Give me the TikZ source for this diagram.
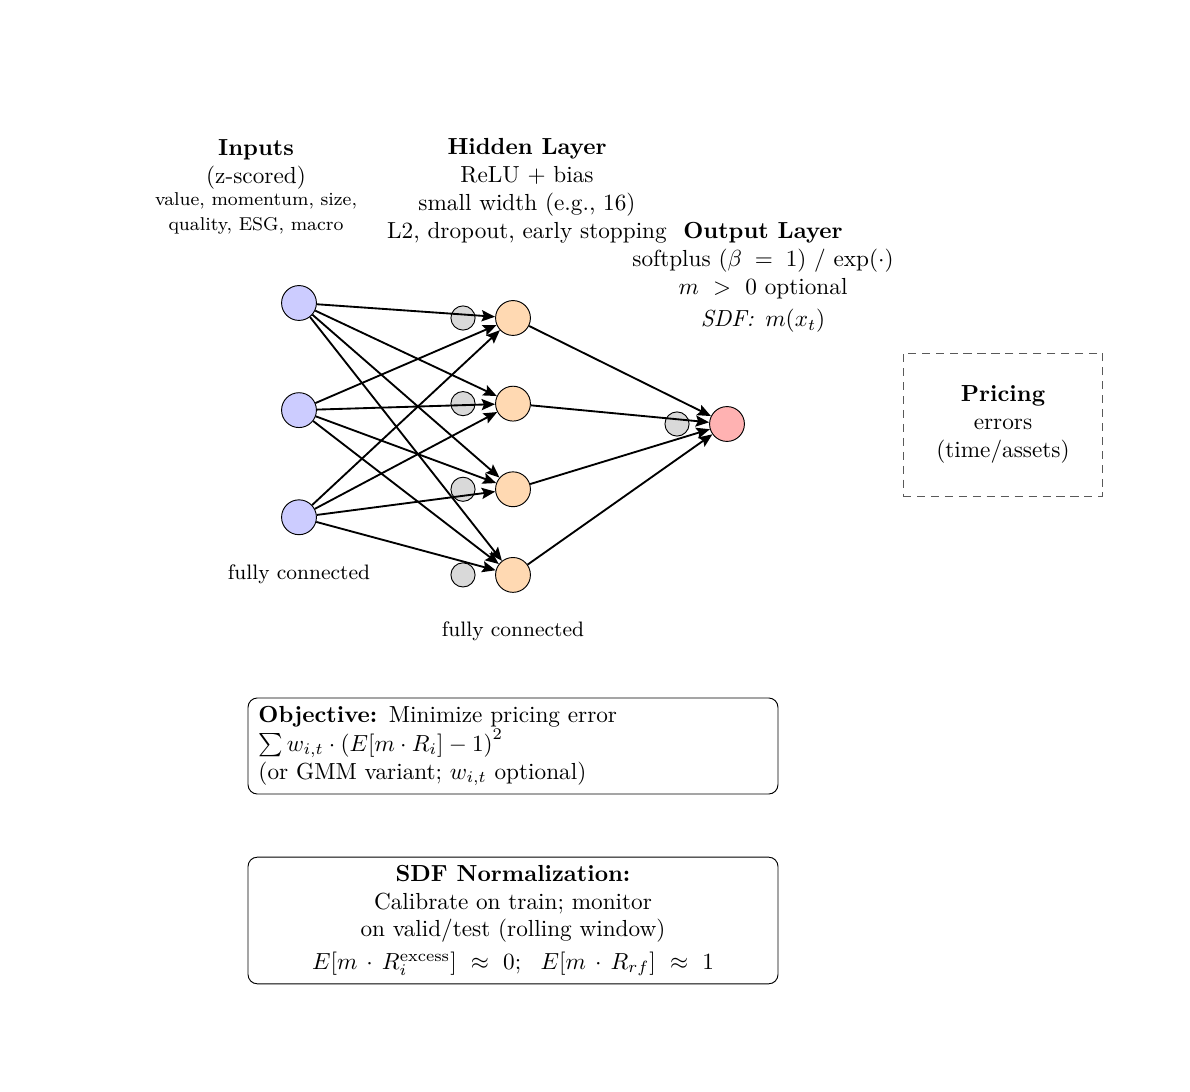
\documentclass[tikz,border=0pt]{standalone}
\usepackage{amsmath}
\usetikzlibrary{arrows.meta}
\tikzstyle{inunit} = [draw, fill=blue!20, circle, minimum size=15pt, inner sep=0pt]
\tikzstyle{hidunit} = [draw, fill=orange!30, circle, minimum size=15pt, inner sep=0pt]
\tikzstyle{outunit} = [draw, fill=red!30, circle, minimum size=15pt, inner sep=0pt]
\tikzstyle{biasunit} = [draw, fill=gray!30, circle, minimum size=10.4pt, inner sep=0pt]
\tikzstyle{layertext} = [align=center, inner sep=0pt]
\tikzstyle{notebox} = [draw, rounded corners=4pt, minimum width=228pt]
\tikzstyle{pricebox} = [draw=black!65, dash pattern=on 3.5pt off 2.5pt, align=center,
    minimum width=86pt, minimum height=61.5pt]

\begin{document}
\begin{tikzpicture}[x=0.01512cm, y=-0.01512cm, >={Stealth[length=5.8pt,width=4.8pt,inset=1pt]}]
    \useasboundingbox (0,0) rectangle (1190,1092);
    % layers
    \node [inunit] (in1) at (299,303) {};
    \node [inunit, below of=in1, node distance=1.62cm] (in2) {};
    \node [inunit, below of=in2, node distance=1.62cm] (in3) {};
    \node [hidunit] (hid1) at (513,318) {};
    \node [hidunit, below of=hid1, node distance=1.295cm] (hid2) {};
    \node [hidunit, below of=hid2, node distance=1.295cm] (hid3) {};
    \node [hidunit, below of=hid3, node distance=1.295cm] (hid4) {};
    \node [biasunit, left of=hid1, node distance=0.756cm] (bias1) {};
    \node [biasunit, left of=hid2, node distance=0.756cm] (bias2) {};
    \node [biasunit, left of=hid3, node distance=0.756cm] (bias3) {};
    \node [biasunit, left of=hid4, node distance=0.756cm] (bias4) {};
    \node [outunit] (out) at (727,424) {};
    \node [biasunit, left of=out, node distance=0.756cm] (biasout) {};
    % connections
    \draw [->,thick] (in1) -- (hid1);
    \draw [->,thick] (in1) -- (hid2);
    \draw [->,thick] (in1) -- (hid3);
    \draw [->,thick] (in1) -- (hid4);
    \draw [->,thick] (in2) -- (hid1);
    \draw [->,thick] (in2) -- (hid2);
    \draw [->,thick] (in2) -- (hid3);
    \draw [->,thick] (in2) -- (hid4);
    \draw [->,thick] (in3) -- (hid1);
    \draw [->,thick] (in3) -- (hid2);
    \draw [->,thick] (in3) -- (hid3);
    \draw [->,thick] (in3) -- (hid4);
    \draw [->,thick] (hid1) -- (out);
    \draw [->,thick] (hid2) -- (out);
    \draw [->,thick] (hid3) -- (out);
    \draw [->,thick] (hid4) -- (out);
    % texts
    \node [layertext, anchor=north] (intext) at (256,139) {\textbf{Inputs}\\(z-scored)\\[-2.6pt]
        {\footnotesize value, momentum, size,}\\[-1.2pt]{\footnotesize quality, ESG, macro}};
    \node [layertext, anchor=north] (hidtext) at (527,138) {\textbf{Hidden Layer}\\ReLU $+$ bias\\
        small width (e.g., 16)\\L2, dropout, early stopping};
    \node [layertext, anchor=north] (outtext) at (763,222) {\textbf{Output Layer}\\
        softplus ($\beta\;=\;1$) / $\exp(\cdot)$\\$m\ >\ 0$ optional};
    \node [layertext] (sdftext) at (763,321) {\textit{SDF:}\enspace$m(x_t)$};
    \node [layertext, font=\small] (fcin) at (299,574) {fully connected};
    \node [layertext, font=\small] (fchid) at (513,631) {fully connected};
    \node [pricebox] (pricing) at (1003,424.5) {\textbf{Pricing}\\errors\\(time/assets)};
    \node [notebox, minimum height=41.3pt, text width=219pt, align=left, inner xsep=4.3pt]
        (objective) at (513,746) {\textbf{Objective:} Minimize pricing error\\[0.5pt]
        $\sum w_{i,t}\cdot\left(E[m\cdot R_i]-1\right)^2$\\(or GMM variant; $w_{i,t}$ optional)};
    \node [notebox, minimum height=54pt, align=center] (normalize) at (513,920.5)
        {\textbf{SDF Normalization:}\\Calibrate on train; monitor\\on valid/test (rolling window)\\[2pt]
        $E[m\,\cdot\,R_i^{\text{excess}}]\ \approx\ 0;\ \ E[m\,\cdot\,R_{rf}]\ \approx\ 1$};
\end{tikzpicture}
\end{document}
